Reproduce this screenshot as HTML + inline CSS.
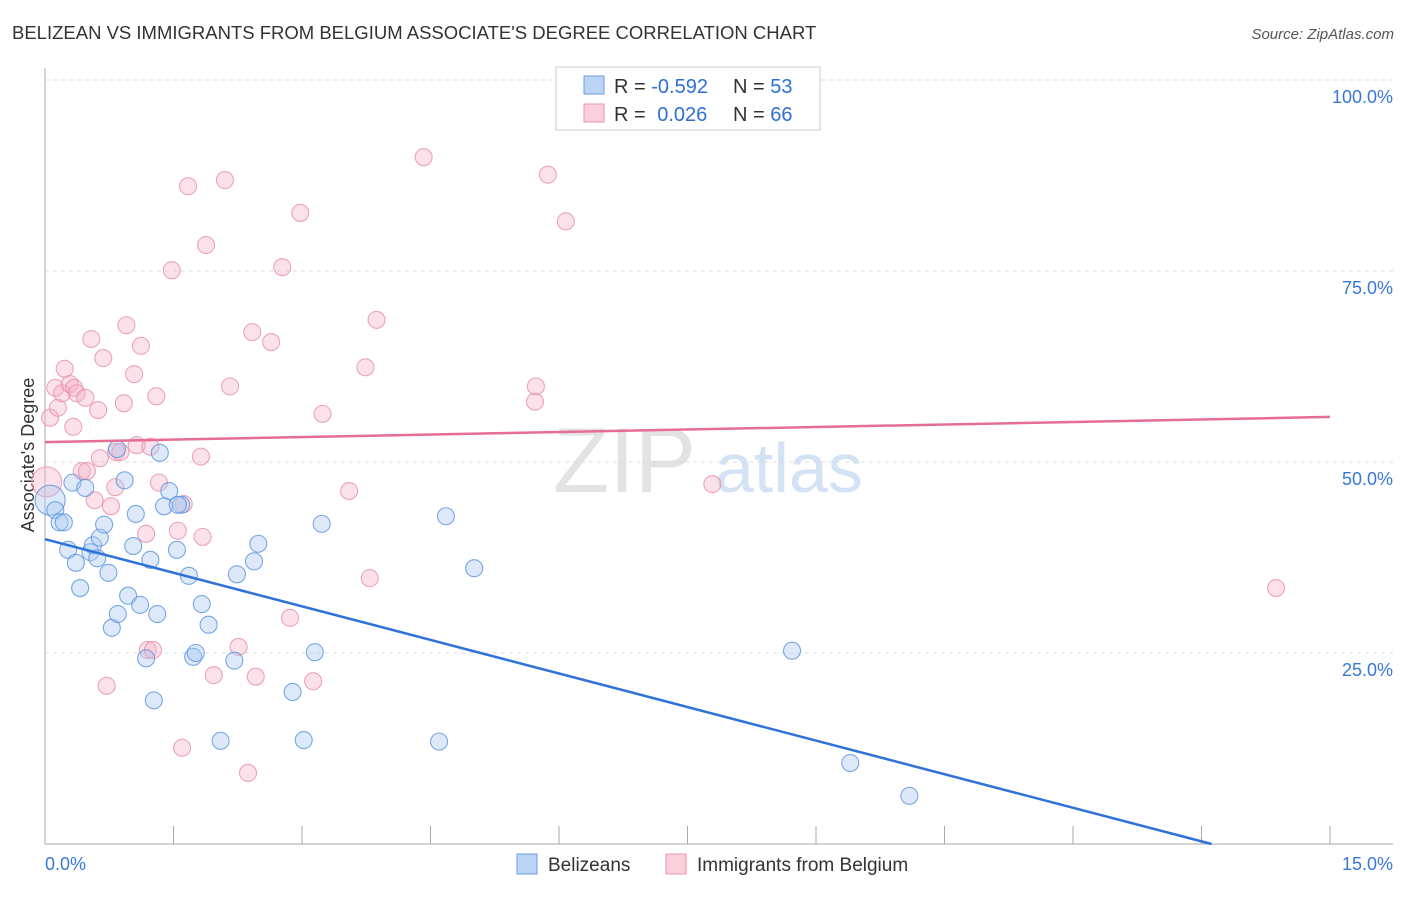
<!DOCTYPE html>
<html><head><meta charset="utf-8"><style>
body{margin:0;background:#fff;font-family:"Liberation Sans",sans-serif;}
svg text{font-family:"Liberation Sans",sans-serif;}
</style></head><body>
<svg id="chart" width="1406" height="892" xmlns="http://www.w3.org/2000/svg">
<text x="12" y="39" font-size="18.5" fill="#333">BELIZEAN VS IMMIGRANTS FROM BELGIUM ASSOCIATE'S DEGREE CORRELATION CHART</text>
<text x="1394" y="39" font-size="15" fill="#555" text-anchor="end" font-style="italic">Source: ZipAtlas.com</text>
<text x="34" y="455" font-size="18" fill="#333" text-anchor="middle" transform="rotate(-90 34 455)">Associate's Degree</text>
<g><text x="553" y="492" font-size="92" fill="#ddd" font-family="Liberation Serif" opacity="0.8">ZIP</text><text x="715" y="492" font-size="70" fill="#c9dcf2" opacity="0.8">atlas</text></g>
<g id="grid"></g><g id="marks"></g><g id="lines"></g>
<g>
<rect x="556" y="67" width="264" height="63" fill="#fff" stroke="#ccc"/>
<rect x="584" y="76" width="20" height="18" fill="#bcd5f5" stroke="#6a9de0"/>
<rect x="584" y="104" width="20" height="18" fill="#fbd0dc" stroke="#ec93ad"/>
<text x="614" y="93" font-size="20" fill="#333">R = <tspan fill="#2f6fd6">-0.592</tspan></text>
<text x="733" y="93" font-size="20" fill="#333">N = <tspan fill="#2f6fd6">53</tspan></text>
<text x="614" y="121" font-size="20" fill="#333">R = <tspan fill="#2f6fd6" dx="6">0.026</tspan></text>
<text x="733" y="121" font-size="20" fill="#333">N = <tspan fill="#2f6fd6">66</tspan></text>
</g>
<g>
<rect x="517" y="854" width="20" height="20" fill="#bcd5f5" stroke="#6a9de0"/>
<text x="548" y="871" font-size="19" fill="#333">Belizeans</text>
<rect x="666" y="854" width="20" height="20" fill="#fbd0dc" stroke="#ec93ad"/>
<text x="697" y="871" font-size="19" fill="#333">Immigrants from Belgium</text>
</g>
</svg>
<script>
const xTicks=[0,1.5,3,4.5,6,7.5,9,10.5,12,13.5,15];
const yTicks=[25,50,75,100];
const yTickLabels=["25.0%","50.0%","75.0%","100.0%"];
const blueX=[0.06,0.12,0.17,0.22,0.27,0.32,0.36,0.41,0.47,0.53,0.56,0.61,0.64,0.69,0.74,0.78,0.85,0.93,0.97,1.03,1.06,1.11,1.18,1.23,1.27,1.31,1.34,1.39,1.45,1.54,1.59,1.68,1.73,1.76,1.83,1.91,2.05,2.21,2.24,2.44,2.49,2.89,3.02,3.15,3.23,4.60,4.68,5.01,8.72,9.40,10.09,0.84,1.55];
const blueY=[45.0,43.7,42.1,42.1,38.5,47.3,36.8,33.5,46.6,38.2,39.1,37.4,40.1,41.8,35.5,28.3,30.1,47.6,32.5,39.0,43.2,31.3,24.3,37.2,18.8,30.1,51.2,44.2,46.2,38.5,44.4,35.1,24.5,25.0,31.4,28.7,13.5,24.0,35.3,37.0,39.3,19.9,13.6,25.1,41.9,13.4,42.9,36.1,25.3,10.6,6.3,51.7,44.4];
const pinkX=[0.02,0.06,0.12,0.15,0.20,0.23,0.29,0.33,0.34,0.37,0.43,0.47,0.49,0.54,0.58,0.62,0.64,0.68,0.72,0.77,0.82,0.83,0.88,0.92,0.95,1.04,1.07,1.12,1.18,1.20,1.23,1.26,1.30,1.33,1.48,1.55,1.60,1.62,1.67,1.82,1.84,1.88,1.97,2.10,2.16,2.26,2.37,2.42,2.46,2.64,2.77,2.86,2.98,3.13,3.24,3.55,3.74,3.79,3.87,4.42,5.72,5.73,5.87,6.08,7.79,14.37];
const pinkY=[47.4,55.8,59.7,57.1,59.0,62.2,60.2,54.6,59.7,59.0,48.8,58.4,48.8,66.1,45.0,56.8,50.5,63.6,20.7,44.2,46.7,51.3,51.3,57.7,67.9,61.5,52.2,65.2,40.6,25.4,52.0,25.4,58.6,47.3,75.1,41.0,12.6,44.5,86.1,50.7,40.2,78.4,22.1,86.9,59.9,25.8,9.3,67.0,21.9,65.7,75.5,29.6,82.6,21.3,56.3,46.2,62.4,34.8,68.6,89.9,57.9,59.9,87.6,81.5,47.1,33.5];
const blueTrend=[39.9,-2.93];
const pinkTrend=[52.6,0.22];
const NS="http://www.w3.org/2000/svg";
const X0=45,X1=1330,Y0=844,Y100=80;
const sx=v=>X0+(v/15)*(X1-X0);
const sy=v=>Y0-(v/100)*(Y0-Y100);
function mk(t,a,p){const e=document.createElementNS(NS,t);for(const k in a)e.setAttribute(k,a[k]);p.appendChild(e);return e;}
const grid=document.getElementById('grid');
const ax=mk('line',{x1:X0,y1:68,x2:X0,y2:Y0,stroke:'#aaa'},grid);


const bx=mk('line',{x1:X0,y1:Y0,x2:1393,y2:Y0,stroke:'#aaa'},grid);


yTicks.forEach((t,i)=>{
 const g=mk('line',{x1:X0,x2:1393,y1:sy(t),y2:sy(t),stroke:'#ddd','stroke-dasharray':'4,4'},grid);
 
 
 const l=mk('text',{x:1393,y:sy(t)+23,'font-size':18,fill:'#3a78d8','text-anchor':'end'},grid);
 l.textContent=yTickLabels[i];
 
 
});
xTicks.forEach(t=>{
 const k=mk('line',{x1:sx(t),x2:sx(t),y1:826,y2:Y0,stroke:'#aaa'},grid);
 
 
});
const xl0=mk('text',{x:45,y:870,'font-size':18,fill:'#3a78d8'},grid);xl0.textContent='0.0%';


const xl1=mk('text',{x:1393,y:870,'font-size':18,fill:'#3a78d8','text-anchor':'end'},grid);xl1.textContent='15.0%';


const marks=document.getElementById('marks');
function pts(xs,ys,fill,stroke,name){xs.forEach((x,i)=>{
 const r=(i===0&&x<0.1)?15:8.5;
 const c=mk('circle',{cx:sx(x),cy:sy(ys[i]),r:r,fill:fill,stroke:stroke,'stroke-width':1.1,'fill-opacity':0.4,'stroke-opacity':0.8},marks);
 
 
});}
pts(pinkX,pinkY,'#f5b3c7','#e990aa','point-belgium');
pts(blueX,blueY,'#a9c8f0','#5a93de','point-belizean');
const lines=document.getElementById('lines');
const bEnd=Math.min(15,-blueTrend[0]/blueTrend[1]);
const bl=mk('line',{x1:sx(0),y1:sy(blueTrend[0]),x2:sx(bEnd),y2:sy(blueTrend[0]+blueTrend[1]*bEnd),stroke:'#2f72d8','stroke-width':2.5},lines);


const pl=mk('line',{x1:sx(0),y1:sy(pinkTrend[0]),x2:sx(15),y2:sy(pinkTrend[0]+pinkTrend[1]*15),stroke:'#e66d94','stroke-width':2.5},lines);


</script>
</body></html>
